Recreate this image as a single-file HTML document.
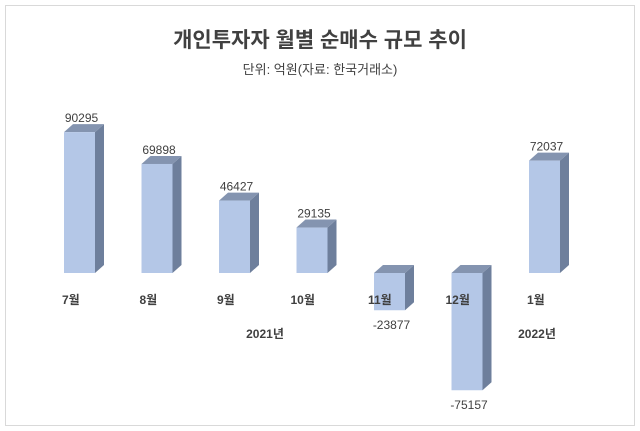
<!DOCTYPE html>
<html><head><meta charset="utf-8"><style>
body{margin:0;background:#fff;}
svg{display:block;font-family:"Liberation Sans","Noto Sans CJK KR",sans-serif;}
</style></head><body>
<svg id="c" width="640" height="431">
<rect x="5.5" y="5.5" width="629" height="420" fill="#fff" stroke="#d9d9d9"/>
<text x="320" y="47" text-anchor="middle" font-size="21" font-weight="bold" fill="#404040">개인투자자 월별 순매수 규모 추이</text>
<text x="320" y="74" text-anchor="middle" font-size="13" fill="#404040">단위: 억원(자료: 한국거래소)</text>
<g id="bars"></g>
<text x="265" y="338" text-anchor="middle" font-size="12" font-weight="bold" fill="#404040">2021년</text>
<text x="537" y="338" text-anchor="middle" font-size="12" font-weight="bold" fill="#404040">2022년</text>
</svg>
<script>
const categories=["7월","8월","9월","10월","11월","12월","1월"];
const values=[90295,69898,46427,29135,-23877,-75157,72037];
const NS="http://www.w3.org/2000/svg";
const g=document.getElementById("bars");
const zeroY=273, scale=1.56/1000, x0=79.5, step=77.5, w=31, dx=9, dy=8;
function xC(i){return x0+i*step;}
function yV(v){return zeroY-v*scale;}
function mk(tag,attrs){const e=document.createElementNS(NS,tag);for(const k in attrs)e.setAttribute(k,attrs[k]);g.appendChild(e);return e;}
categories.forEach((c,i)=>{
  const v=values[i],l=xC(i)-w/2,r=l+w;
  const top=Math.min(yV(v),zeroY),bot=Math.max(yV(v),zeroY);
  const side=mk("polygon",{points:`${r},${top} ${r+dx},${top-dy} ${r+dx},${bot-dy} ${r},${bot}`,fill:"#6e7f9c"});
  
  
  const tp=mk("polygon",{points:`${l},${top} ${l+dx},${top-dy} ${r+dx},${top-dy} ${r},${top}`,fill:"#8494b0"});
  
  
  const f=mk("rect",{x:l,y:top,width:w,height:bot-top,fill:"#b4c7e7"});
  
  
  const vl=mk("text",{x:xC(i)+2,y:v>=0?top-10:bot+19,"text-anchor":"middle","font-size":"12",fill:"#404040"});
  vl.textContent=v;
  
  
  const cl=mk("text",{x:l-(c.length>2?6:2),y:304,"font-size":"12","font-weight":"bold",fill:"#404040"});
  cl.textContent=c;
  
  
});
</script>
</body></html>
